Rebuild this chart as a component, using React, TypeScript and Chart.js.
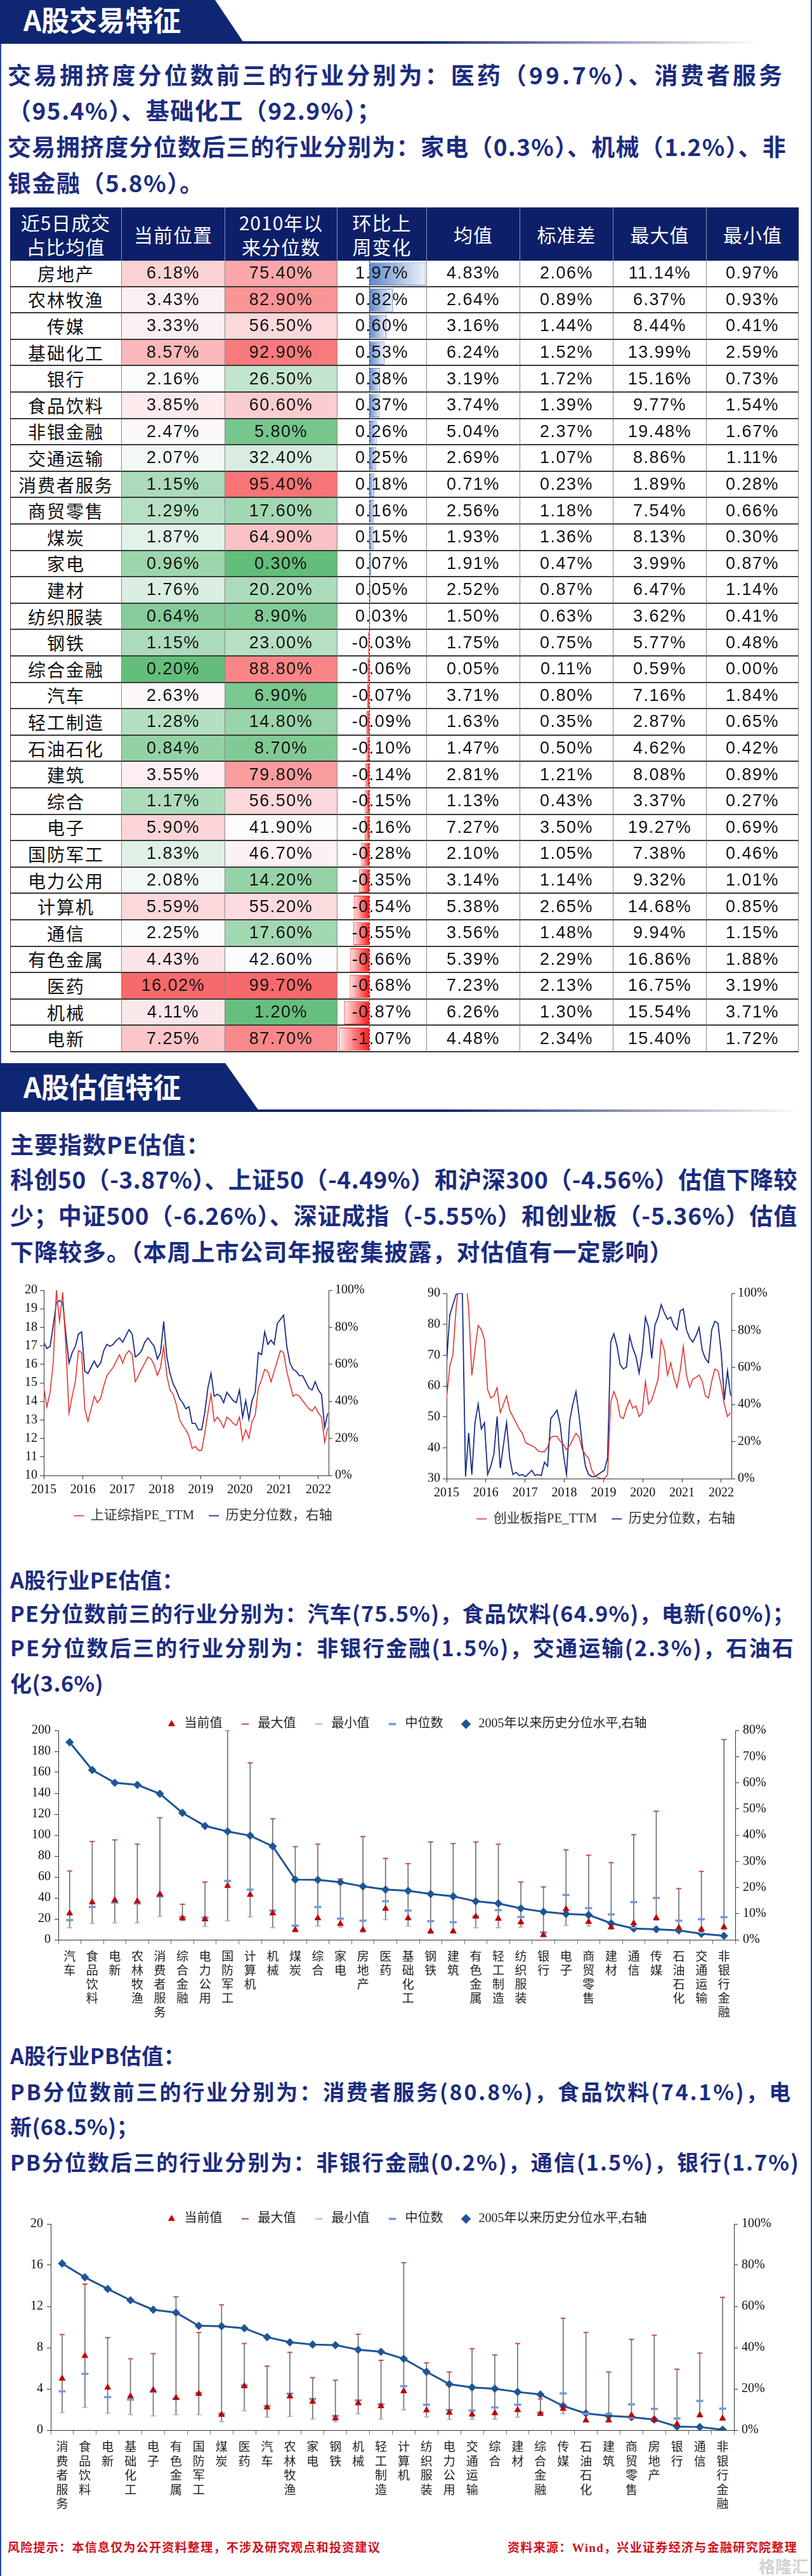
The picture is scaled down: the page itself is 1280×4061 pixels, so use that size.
import React, { useEffect, useLayoutEffect, useRef } from 'react';
import { Chart, registerables } from 'chart.js';
Chart.register(...registerables);

const NAVY = '#0f2673';
const TEXT_NAVY = '#1b2c80';
const SERIF = "'Liberation Serif', 'Noto Sans CJK SC', serif";
const CJK = "'Noto Sans CJK SC', sans-serif";
const NARROW = "'Liberation Sans Narrow', 'Liberation Sans', 'Noto Sans CJK SC', sans-serif";

// ---------------- table data ----------------
const industries = ['房地产', '农林牧渔', '传媒', '基础化工', '银行', '食品饮料', '非银金融', '交通运输', '消费者服务', '商贸零售', '煤炭', '家电', '建材', '纺织服装', '钢铁', '综合金融', '汽车', '轻工制造', '石油石化', '建筑', '综合', '电子', '国防军工', '电力公用', '计算机', '通信', '有色金属', '医药', '机械', '电新'];
const currentShare = [6.18, 3.43, 3.33, 8.57, 2.16, 3.85, 2.47, 2.07, 1.15, 1.29, 1.87, 0.96, 1.76, 0.64, 1.15, 0.2, 2.63, 1.28, 0.84, 3.55, 1.17, 5.9, 1.83, 2.08, 5.59, 2.25, 4.43, 16.02, 4.11, 7.25];
const percentileSince2010 = [75.4, 82.9, 56.5, 92.9, 26.5, 60.6, 5.8, 32.4, 95.4, 17.6, 64.9, 0.3, 20.2, 8.9, 23.0, 88.8, 6.9, 14.8, 8.7, 79.8, 56.5, 41.9, 46.7, 14.2, 55.2, 17.6, 42.6, 99.7, 1.2, 87.7];
const weeklyChange = [1.97, 0.82, 0.6, 0.53, 0.38, 0.37, 0.26, 0.25, 0.18, 0.16, 0.15, 0.07, 0.05, 0.03, -0.03, -0.06, -0.07, -0.09, -0.1, -0.14, -0.15, -0.16, -0.28, -0.35, -0.54, -0.55, -0.66, -0.68, -0.87, -1.07];
const meanShare = [4.83, 2.64, 3.16, 6.24, 3.19, 3.74, 5.04, 2.69, 0.71, 2.56, 1.93, 1.91, 2.52, 1.5, 1.75, 0.05, 3.71, 1.63, 1.47, 2.81, 1.13, 7.27, 2.1, 3.14, 5.38, 3.56, 5.39, 7.23, 6.26, 4.48];
const stdShare = [2.06, 0.89, 1.44, 1.52, 1.72, 1.39, 2.37, 1.07, 0.23, 1.18, 1.36, 0.47, 0.87, 0.63, 0.75, 0.11, 0.8, 0.35, 0.5, 1.21, 0.43, 3.5, 1.05, 1.14, 2.65, 1.48, 2.29, 2.13, 1.3, 2.34];
const maxShare = [11.14, 6.37, 8.44, 13.99, 15.16, 9.77, 19.48, 8.86, 1.89, 7.54, 8.13, 3.99, 6.47, 3.62, 5.77, 0.59, 7.16, 2.87, 4.62, 8.08, 3.37, 19.27, 7.38, 9.32, 14.68, 9.94, 16.86, 16.75, 15.54, 15.4];
const minShare = [0.97, 0.93, 0.41, 2.59, 0.73, 1.54, 1.67, 1.11, 0.28, 0.66, 0.3, 0.87, 1.14, 0.41, 0.48, 0.0, 1.84, 0.65, 0.42, 0.89, 0.27, 0.69, 0.46, 1.01, 0.85, 1.15, 1.88, 3.19, 3.71, 1.72];
const tableHeaders = [['近5日成交', '占比均值'], ['当前位置'], ['2010年以', '来分位数'], ['环比上', '周变化'], ['均值'], ['标准差'], ['最大值'], ['最小值']];

// ---------------- index PE time series ----------------
const tsYearTicks = [2015, 2016, 2017, 2018, 2019, 2020, 2021, 2022];
// observation grid (roughly monthly) from start of 2015 to end of March 2022
const sampleYears: number[] = Array.from({ length: 91 }, (_, i) => 2015 + (i * 7.24) / 90);
const shCompositePE = [14.72, 13.71, 14.49, 16.07, 20.0, 18.31, 19.89, 16.97, 13.37, 14.27, 15.06, 16.74, 16.63, 13.6, 12.92, 13.6, 14.27, 13.93, 14.16, 14.83, 15.39, 15.62, 15.84, 16.18, 16.52, 16.07, 16.52, 16.74, 16.52, 15.06, 15.39, 15.73, 16.07, 16.4, 16.29, 15.96, 15.39, 15.84, 16.97, 15.39, 14.61, 14.38, 13.82, 13.03, 12.7, 12.47, 12.13, 11.46, 11.57, 11.35, 11.35, 12.25, 13.37, 14.38, 12.92, 13.15, 12.92, 12.58, 13.15, 13.03, 12.81, 12.7, 13.15, 11.91, 12.47, 12.02, 12.92, 13.26, 14.72, 15.17, 15.73, 15.62, 15.06, 15.62, 16.18, 16.74, 16.63, 15.62, 14.94, 14.27, 14.38, 14.27, 14.04, 13.82, 13.6, 13.48, 13.71, 13.37, 13.15, 11.8, 12.58];
const shCompositePct = [71.9, 68.5, 69.7, 80.9, 93.3, 94.4, 93.3, 76.4, 60.7, 66.3, 69.7, 76.4, 77.5, 56.2, 55.1, 58.4, 61.8, 58.4, 60.7, 67.4, 70.8, 69.7, 70.8, 73.0, 74.2, 71.9, 75.3, 78.7, 76.4, 64.0, 65.2, 67.4, 71.9, 74.2, 71.9, 69.7, 62.9, 66.3, 83.1, 64.0, 55.1, 49.4, 46.1, 41.6, 39.3, 36.0, 37.1, 28.1, 28.1, 24.7, 24.7, 33.7, 47.2, 55.1, 42.7, 43.8, 42.7, 39.3, 44.9, 42.7, 40.4, 39.3, 46.1, 31.5, 40.4, 30.3, 40.4, 44.9, 66.3, 65.2, 77.5, 70.8, 73.0, 70.8, 82.0, 84.3, 86.5, 69.7, 60.7, 57.3, 56.2, 53.9, 53.9, 50.6, 47.2, 46.1, 50.6, 46.1, 43.8, 25.8, 33.7];
const chinextPE = [56.1, 66.2, 70.2, 85.0, 95, 100, 96, 85.0, 63.5, 71.6, 79.6, 78.3, 74.9, 58.8, 56.1, 56.8, 59.5, 51.4, 54.1, 56.8, 52.1, 50.1, 48.1, 46.1, 44.7, 41.7, 41.1, 40.7, 40.1, 39.0, 38.7, 38.7, 40.1, 43.4, 43.7, 43.7, 42.1, 41.1, 39.4, 40.7, 42.7, 44.7, 43.4, 39.4, 37.7, 36.7, 32.7, 31.0, 30.3, 30.0, 30.0, 31.3, 54.8, 58.2, 55.5, 50.1, 49.4, 52.8, 55.5, 52.8, 53.5, 50.1, 51.4, 61.5, 54.1, 55.5, 58.8, 62.2, 74.9, 71.6, 63.5, 67.5, 62.8, 59.5, 64.9, 72.9, 63.5, 59.5, 62.2, 62.8, 63.5, 61.5, 56.8, 56.1, 61.5, 65.5, 64.9, 60.2, 54.1, 50.1, 51.4];
const chinextPct = [62.6, 88.3, 93.9, 99.4, 100, 100, 1.1, 24.6, 2.2, 30.2, 40.2, 26.8, 30.2, 2.2, 6.7, 13.4, 33.5, 5.6, 17.9, 30.2, 11.2, 2.2, 3.4, 1.7, 2.2, 1.1, 2.8, 4.5, 1.7, 2.2, 1.7, 8.9, 6.7, 32.4, 34.6, 36.9, 29.1, 13.4, 2.2, 31.3, 40.2, 46.9, 33.5, 17.9, 6.7, 2.2, 1.1, 1.1, 2.2, 3.4, 4.5, 11.2, 73.7, 78.2, 71.5, 61.5, 59.2, 60.3, 77.1, 70.4, 65.9, 57.0, 68.2, 87.2, 81.6, 64.8, 82.7, 87.2, 93.9, 89.4, 86.0, 87.2, 82.7, 80.4, 90.5, 91.6, 80.4, 76.0, 73.7, 77.1, 81.6, 69.3, 64.8, 62.6, 80.4, 84.9, 83.8, 68.2, 42.5, 58.1, 44.7];

// ---------------- industry PE ----------------
const peIndustries = ['汽车', '食品饮料', '电新', '农林牧渔', '消费者服务', '综合金融', '电力公用', '国防军工', '计算机', '机械', '煤炭', '综合', '家电', '房地产', '医药', '基础化工', '钢铁', '建筑', '有色金属', '轻工制造', '纺织服装', '银行', '电子', '商贸零售', '建材', '通信', '传媒', '石油石化', '交通运输', '非银行金融'];
const peCurrent = [25.3, 35.8, 37.8, 36.8, 43.4, 20.6, 19.6, 51.5, 43, 25.3, 9.5, 20.6, 15.2, 9.5, 29.7, 20.6, 8.1, 8.1, 22.2, 20.2, 16.8, 4.6, 29.3, 17.2, 12.1, 15.8, 20.8, 11.5, 10.1, 12.1];
const peMax = [65.7, 93.9, 95.4, 91.3, 116.6, 33.9, 55.2, 200, 169, 115.6, 88.9, 91.3, 58.2, 98.6, 77.8, 72.7, 93.5, 91.9, 93.5, 91.3, 55.2, 50.5, 85.9, 80.8, 73.7, 100.4, 122.8, 48.9, 65.3, 191.3];
const peMin = [11.5, 15.6, 16.2, 16.2, 22.2, 18.2, 12.7, 18.2, 21.8, 11.5, 7.5, 13.1, 12.1, 7.1, 19.2, 13.1, 6.1, 7.1, 11.5, 11.5, 12.1, 3.4, 13.7, 13.1, 10.1, 11.5, 18.6, 10.1, 6.7, 9.5];
const peMedian = [18.8, 31.3, 35.4, 34.7, 41.4, 21.6, 21.2, 56.2, 47.9, 27.9, 13.5, 31.3, 20.2, 18.2, 36.8, 27.9, 17.8, 16.8, 22.2, 28.3, 21.8, 7.1, 42.8, 30.3, 24.2, 36, 40, 18.2, 19.6, 21.6];
const pePercentile = [75.5, 64.9, 60.0, 59.2, 55.8, 48.5, 43.5, 41.4, 39.8, 35.7, 23.0, 22.9, 22.0, 20.4, 19.2, 18.7, 17.5, 16.6, 14.7, 13.9, 12.0, 10.7, 9.9, 9.5, 6.3, 4.3, 4.0, 3.6, 2.3, 1.5];

// ---------------- industry PB ----------------
const pbIndustries = ['消费者服务', '食品饮料', '电新', '基础化工', '电子', '有色金属', '国防军工', '煤炭', '医药', '汽车', '农林牧渔', '家电', '钢铁', '机械', '轻工制造', '计算机', '纺织服装', '电力公用', '交通运输', '综合', '建材', '综合金融', '传媒', '石油石化', '建筑', '商贸零售', '房地产', '银行', '通信', '非银行金融'];
const pbCurrent = [5.0, 7.2, 4.13, 3.28, 3.9, 3.13, 3.53, 1.5, 4.26, 2.2, 3.28, 2.76, 1.15, 2.62, 2.33, 3.78, 1.92, 1.7, 1.52, 1.65, 1.95, 1.58, 2.08, 0.95, 0.95, 1.45, 1.0, 0.58, 1.45, 1.13];
const pbMax = [9.27, 14.16, 8.97, 6.92, 7.42, 12.93, 9.47, 12.15, 8.4, 6.2, 7.54, 5.09, 4.84, 9.3, 6.77, 16.24, 6.52, 5.64, 7.89, 7.29, 8.4, 3.03, 10.85, 9.47, 5.64, 8.8, 9.2, 5.91, 7.47, 12.88];
const pbMin = [1.7, 2.2, 1.63, 1.5, 1.38, 1.5, 1.5, 0.83, 1.88, 1.25, 1.33, 1.08, 0.83, 1.58, 1.08, 1.95, 1.28, 1.03, 1.05, 1.05, 1.25, 1.5, 1.58, 0.85, 0.85, 1.2, 0.95, 0.55, 1.28, 1.0];
const pbMedian = [3.76, 5.46, 3.2, 2.96, 3.7, 3.03, 3.6, 1.58, 4.34, 2.33, 3.53, 3.03, 1.38, 2.88, 2.5, 4.26, 2.46, 1.95, 1.9, 2.2, 2.46, 1.7, 3.56, 1.58, 1.58, 2.5, 2.06, 1.13, 2.83, 2.08];
const pbPercentile = [80.8, 74.1, 68.5, 63.0, 58.4, 57.0, 50.6, 50.4, 49.4, 45.1, 42.6, 41.5, 41.2, 39.0, 38.0, 34.6, 28.3, 22.3, 20.7, 20.1, 18.5, 17.3, 11.7, 8.1, 6.9, 6.3, 5.1, 1.7, 1.5, 0.2];

// ---------------- helpers ----------------
function heatColor(v: number, arr: number[]) {
  const s = [...arr].sort((a, b) => a - b);
  const n = s.length;
  const min = s[0], max = s[n - 1];
  const mid = n % 2 ? s[(n - 1) / 2] : (s[n / 2 - 1] + s[n / 2]) / 2;
  const G = [99, 190, 123], W = [252, 252, 255], R = [248, 105, 107];
  let c: number[];
  if (v <= mid) {
    const t = (v - min) / (mid - min || 1);
    c = G.map((g, i) => g + (W[i] - g) * t);
  } else {
    const t = (v - mid) / (max - mid || 1);
    c = W.map((w, i) => w + (R[i] - w) * t);
  }
  return `rgb(${c.map((x) => Math.round(x)).join(',')})`;
}

function FitText({ x, y, size, text, width, ls, color, weight, family }: any) {
  const ref = useRef<HTMLDivElement>(null);
  useLayoutEffect(() => {
    if (!width || !ref.current) return;
    const el = ref.current;
    el.style.letterSpacing = '0px';
    const w = el.getBoundingClientRect().width;
    const n = Array.from(text as string).length;
    el.style.letterSpacing = (width - w) / n + 'px';
  }, []);
  const lh = Math.round(size * 1.3);
  return (
    <div
      ref={ref}
      style={{
        position: 'absolute', left: x, top: y - lh / 2, fontSize: size, lineHeight: lh + 'px',
        whiteSpace: 'nowrap', fontFamily: family ?? CJK, fontWeight: weight ?? 700,
        color: color ?? TEXT_NAVY, letterSpacing: ls ?? 0,
      }}
    >
      {text}
    </div>
  );
}

function ChartBox({ left, top, width, height, make }: any) {
  const ref = useRef<HTMLCanvasElement>(null);
  useEffect(() => {
    const chart = new Chart(ref.current as HTMLCanvasElement, make());
    return () => chart.destroy();
  }, []);
  return (
    <div style={{ position: 'absolute', left, top, width, height }}>
      <canvas ref={ref} />
    </div>
  );
}

function Banner({ top, height, topW, botW, text, textY, lineW }: any) {
  return (
    <>
      <div style={{ position: 'absolute', left: 0, top: top + height - 2, width: lineW, height: 4, background: `linear-gradient(to right, ${NAVY} 0%, ${NAVY} 55%, rgba(15,38,115,0) 100%)` }} />
      <div style={{ position: 'absolute', left: 0, top, width: botW, height, background: NAVY, clipPath: `polygon(0 0, ${topW}px 0, ${botW}px ${height}px, 0 ${height}px)` }} />
      <div style={{ position: 'absolute', left: 37, top: textY - 30, height: 60, lineHeight: '60px', fontSize: 44, fontWeight: 700, color: '#fff', fontFamily: CJK, whiteSpace: 'nowrap' }}>{text}</div>
    </>
  );
}

// ---------------- table ----------------
const colX = [16, 192, 355, 532, 673, 820, 967, 1114, 1259];
const TABLE_TOP = 327;
const HEAD_H = 84;
const ROW_H = 41.6;

function dataBarConfig() {
  const zeroLine = {
    id: 'zeroLine',
    afterDatasetsDraw(chart: any) {
      const { ctx, chartArea } = chart;
      const x = Math.round(chart.scales.x.getPixelForValue(0)) + 0.5;
      ctx.save();
      ctx.setLineDash([3, 3]);
      ctx.strokeStyle = '#222';
      ctx.lineWidth = 1;
      ctx.beginPath();
      ctx.moveTo(x, chartArea.top);
      ctx.lineTo(x, chartArea.bottom);
      ctx.stroke();
      ctx.restore();
    },
  };
  return {
    type: 'bar',
    data: {
      labels: industries,
      datasets: [
        {
          data: weeklyChange,
          backgroundColor: (c: any) => {
            const chart = c.chart;
            if (!chart.chartArea) return 'rgba(0,0,0,0)';
            const v = c.raw as number;
            const xs = chart.scales.x;
            const x0 = xs.getPixelForValue(0);
            const x1 = xs.getPixelForValue(v);
            const g = chart.ctx.createLinearGradient(x0, 0, x1 === x0 ? x0 + 1 : x1, 0);
            if (v >= 0) { g.addColorStop(0, '#5f87c8'); g.addColorStop(1, '#eef2fa'); }
            else { g.addColorStop(0, '#ff1a1a'); g.addColorStop(1, '#ffe6e6'); }
            return g;
          },
          borderColor: (c: any) => ((c.raw as number) >= 0 ? '#5f87c8' : '#ff1a1a'),
          borderWidth: 1,
          borderSkipped: false,
          barPercentage: 0.88,
          categoryPercentage: 1,
        },
      ],
    },
    options: {
      indexAxis: 'y',
      animation: false,
      responsive: true,
      maintainAspectRatio: false,
      events: [],
      layout: { padding: 0 },
      plugins: { legend: { display: false }, tooltip: { enabled: false } },
      scales: {
        x: { type: 'linear', min: -1.11, max: 2.02, display: false },
        y: { type: 'category', display: false },
      },
    },
    plugins: [zeroLine],
  };
}

function TradingTable() {
  const cells: any[] = [];
  const colW = colX.slice(1).map((x, i) => x - colX[i]);
  tableHeaders.forEach((lines, c) => {
    cells.push(
      <div key={'h' + c} style={{
        position: 'absolute', left: colX[c], top: TABLE_TOP, width: colW[c], height: HEAD_H,
        background: '#0c1f68', boxSizing: 'border-box', borderRight: c < 7 ? '1px solid #8c95b8' : 'none',
        display: 'flex', flexDirection: 'column', justifyContent: 'center', alignItems: 'center',
        color: '#fff', fontSize: 30, lineHeight: '38px', fontFamily: CJK, letterSpacing: 1,
      }}>
        {lines.map((l, k) => <div key={k}>{l}</div>)}
      </div>
    );
  });
  industries.forEach((name, r) => {
    const top = TABLE_TOP + HEAD_H + r * ROW_H;
    const vals = [
      name,
      currentShare[r].toFixed(2) + '%',
      percentileSince2010[r].toFixed(2) + '%',
      weeklyChange[r].toFixed(2) + '%',
      meanShare[r].toFixed(2) + '%',
      stdShare[r].toFixed(2) + '%',
      maxShare[r].toFixed(2) + '%',
      minShare[r].toFixed(2) + '%',
    ];
    vals.forEach((v, c) => {
      let bg = '#fff';
      if (c === 1) bg = heatColor(currentShare[r], currentShare);
      if (c === 2) bg = heatColor(percentileSince2010[r], percentileSince2010);
      if (c === 3) bg = 'transparent';
      cells.push(
        <div key={r + '-' + c} style={{
          position: 'absolute', left: colX[c], top, width: colW[c], height: ROW_H,
          background: bg, boxSizing: 'border-box', borderRight: '1px solid #8a8a8a', borderBottom: '2px solid #3a3a3a',
          borderLeft: c === 0 ? '1px solid #3a3a3a' : 'none',
          display: 'flex', alignItems: 'center', justifyContent: 'center',
          fontFamily: c === 0 ? CJK : NARROW, fontSize: c === 0 ? 28 : 27, letterSpacing: c === 0 ? 2 : 1.5,
          color: '#111', whiteSpace: 'nowrap', zIndex: c === 3 ? 3 : 1,
        }}>{v}</div>
      );
    });
  });
  return (
    <>
      {cells}
      <ChartBox left={colX[3]} top={TABLE_TOP + HEAD_H} width={colX[4] - colX[3]} height={ROW_H * 30} make={dataBarConfig} />
    </>
  );
}

// ---------------- charts ----------------
const legendShift = (dy: number) => ({
  id: 'legendShift',
  afterLayout(chart: any) {
    const l = chart.legend;
    if (l) { l.top += dy; l.bottom += dy; }
  },
});

function timeSeriesConfig(peName: string, pe: number[], pct: number[], yMin: number, yMax: number, yStep: number) {
  const tickFont = { family: SERIF, size: 20 };
  return {
    type: 'line',
    data: {
      datasets: [
        { label: peName, data: pe.map((v, i) => ({ x: sampleYears[i], y: v })), borderColor: '#e5342e', backgroundColor: '#e5342e', borderWidth: 1.6, pointRadius: 0, yAxisID: 'y' },
        { label: '历史分位数，右轴', data: pct.map((v, i) => ({ x: sampleYears[i], y: v })), borderColor: '#1a2d8a', backgroundColor: '#1a2d8a', borderWidth: 1.8, pointRadius: 0, yAxisID: 'y1' },
      ],
    },
    options: {
      animation: false,
      responsive: true,
      maintainAspectRatio: false,
      events: [],
      plugins: {
        legend: { position: 'bottom', labels: { usePointStyle: true, pointStyle: 'line', pointStyleWidth: 16, font: { family: SERIF, size: 21 }, color: '#333', padding: 23 } },
        tooltip: { enabled: false },
      },
      scales: {
        x: {
          type: 'linear', min: 2015, max: 2022.26,
          afterBuildTicks: (s: any) => { s.ticks = tsYearTicks.map((v) => ({ value: v })); },
          ticks: { callback: (v: any) => String(v), font: tickFont, color: '#111', padding: 5, maxRotation: 0, autoSkip: false },
          grid: { drawOnChartArea: false, tickLength: 6, color: '#333' },
          border: { color: '#333' },
          afterFit: (s: any) => { s.height = 30; },
        },
        y: {
          position: 'left', min: yMin, max: yMax,
          ticks: { stepSize: yStep, font: tickFont, color: '#111', padding: 4 },
          grid: { drawOnChartArea: false, tickLength: 6, color: '#333' },
          border: { color: '#333' },
          afterFit: (s: any) => { s.width = 49; },
        },
        y1: {
          position: 'right', min: 0, max: 100,
          ticks: { stepSize: 20, callback: (v: any) => v + '%', font: tickFont, color: '#111', padding: 4 },
          grid: { drawOnChartArea: false, tickLength: 6, color: '#333' },
          border: { color: '#333' },
          afterFit: (s: any) => { s.width = 102; },
        },
      },
    },
  };
}

function rangeConfig(o: any) {
  const { names, cur, mx, mn, med, pct, yMax, yStep, y1Max, y1Step, yW, y1W, dy, lineH } = o;
  const tickFont = { family: SERIF, size: 20 };
  return {
    type: 'bar',
    data: {
      labels: names.map((s: string) => Array.from(s)),
      datasets: [
        { type: 'line', label: '当前值', data: cur, showLine: false, pointStyle: 'triangle', pointRadius: 5.5, borderWidth: 1, pointBackgroundColor: '#c00000', pointBorderColor: '#c00000', backgroundColor: '#c00000', borderColor: '#c00000', yAxisID: 'y' },
        { type: 'line', label: '最大值', data: mx, showLine: false, pointStyle: 'line', pointRadius: 4, borderWidth: 2, pointBorderWidth: 2, pointBorderColor: '#c0504d', borderColor: '#c0504d', backgroundColor: '#c0504d', yAxisID: 'y' },
        { type: 'line', label: '最小值', data: mn, showLine: false, pointStyle: 'line', pointRadius: 4, borderWidth: 2, pointBorderWidth: 2, pointBorderColor: '#b8b8b8', borderColor: '#b8b8b8', backgroundColor: '#b8b8b8', yAxisID: 'y' },
        { type: 'line', label: '中位数', data: med, showLine: false, pointStyle: 'line', pointRadius: 5.5, borderWidth: 3, pointBorderWidth: 3.5, pointBorderColor: '#6f9bd4', borderColor: '#6f9bd4', backgroundColor: '#6f9bd4', yAxisID: 'y' },
        { type: 'line', label: '2005年以来历史分位水平,右轴', data: pct, borderColor: '#1f5597', backgroundColor: '#1f5597', borderWidth: 3, pointStyle: 'rectRot', pointRadius: 4.5, pointBackgroundColor: '#1f5597', pointBorderColor: '#1f5597', yAxisID: 'y1' },
        { type: 'bar', label: 'range', data: mn.map((v: number, i: number) => [v, mx[i]]), backgroundColor: '#707070', barThickness: 1, yAxisID: 'y' },
      ],
    },
    options: {
      animation: false,
      responsive: true,
      maintainAspectRatio: false,
      events: [],
      plugins: {
        legend: {
          position: 'top',
          labels: { usePointStyle: true, boxHeight: 8, font: { family: SERIF, size: 20 }, color: '#222', padding: 26, filter: (it: any) => it.text !== 'range' },
        },
        tooltip: { enabled: false },
      },
      scales: {
        x: {
          type: 'category', offset: true,
          ticks: { font: { family: CJK, size: 19, lineHeight: lineH / 19 }, color: '#222', padding: 8, maxRotation: 0, minRotation: 0, autoSkip: false },
          grid: { offset: true, drawOnChartArea: false, tickLength: 7, color: '#777' },
          border: { color: '#333' },
          afterFit: (s: any) => { s.height = 140; },
        },
        y: {
          position: 'left', min: 0, max: yMax,
          ticks: { stepSize: yStep, font: tickFont, color: '#111', padding: 6 },
          grid: { drawOnChartArea: false, tickLength: 6, color: '#333' },
          border: { color: '#333' },
          afterFit: (s: any) => { s.width = yW; },
        },
        y1: {
          position: 'right', min: 0, max: y1Max,
          ticks: { stepSize: y1Step, callback: (v: any) => v + '%', font: tickFont, color: '#111', padding: 6 },
          grid: { drawOnChartArea: false, tickLength: 6, color: '#333' },
          border: { color: '#333' },
          afterFit: (s: any) => { s.width = y1W; },
        },
      },
    },
    plugins: [legendShift(dy)],
  };
}

// ---------------- page ----------------
export default function App() {
  const L = 12;
  return (
    <div style={{ position: 'absolute', left: 0, top: 0, width: 1280, height: 4061, background: '#fff', overflow: 'hidden', fontFamily: CJK }}>
      <div style={{ position: 'absolute', left: 0, top: 0, width: 2, height: 4061, background: '#2b4a9b' }} />
      <div style={{ position: 'absolute', left: 1278, top: 0, width: 2, height: 4061, background: '#2b4a9b' }} />

      <Banner top={0} height={67} topW={339} botW={384} text="A股交易特征" textY={30} lineW={1200} />
      <FitText x={L} y={117} size={37} width={1225} text="交易拥挤度分位数前三的行业分别为：医药（99.7%）、消费者服务" />
      <FitText x={L} y={173} size={37} ls={1.5} text="（95.4%）、基础化工（92.9%）；" />
      <FitText x={L} y={230} size={37} width={1228} text="交易拥挤度分位数后三的行业分别为：家电（0.3%）、机械（1.2%）、非" />
      <FitText x={L} y={287} size={37} ls={1.5} text="银金融（5.8%）。" />

      <TradingTable />

      <Banner top={1676} height={75} topW={355} botW={408} text="A股估值特征" textY={1712} lineW={1262} />
      <FitText x={L + 4} y={1803} size={37} ls={1} text="主要指数PE估值：" />
      <FitText x={L + 4} y={1858} size={37} width={1241} text="科创50（-3.87%）、上证50（-4.49%）和沪深300（-4.56%）估值下降较" />
      <FitText x={L + 4} y={1915} size={37} width={1241} text="少；中证500（-6.26%）、深证成指（-5.55%）和创业板（-5.36%）估值" />
      <FitText x={L + 4} y={1972} size={37} ls={1} text="下降较多。（本周上市公司年报密集披露，对估值有一定影响）" />

      <ChartBox left={20} top={2018} width={600} height={392} make={() => timeSeriesConfig('上证综指PE_TTM', shCompositePE, shCompositePct, 10, 20, 1)} />
      <ChartBox left={655} top={2023} width={600} height={392} make={() => timeSeriesConfig('创业板指PE_TTM', chinextPE, chinextPct, 30, 90, 10)} />

      <FitText x={L + 4} y={2490} size={34} ls={0.5} text="A股行业PE估值：" />
      <FitText x={L + 4} y={2543} size={34} width={1237} text="PE分位数前三的行业分别为：汽车(75.5%)，食品饮料(64.9%)，电新(60%)；" />
      <FitText x={L + 4} y={2597} size={34} width={1237} text="PE分位数后三的行业分别为：非银行金融(1.5%)，交通运输(2.3%)，石油石" />
      <FitText x={L + 4} y={2653} size={34} ls={0.5} text="化(3.6%)" />

      <ChartBox left={16} top={2672} width={1248} height={526} make={() => rangeConfig({
        names: peIndustries, cur: peCurrent, mx: peMax, mn: peMin, med: peMedian, pct: pePercentile,
        yMax: 200, yStep: 20, y1Max: 80, y1Step: 10, yW: 76, y1W: 105, dy: 10, lineH: 22,
      })} />

      <FitText x={L + 4} y={3240} size={34} ls={0.5} text="A股行业PB估值：" />
      <FitText x={L + 4} y={3297} size={34} width={1233} text="PB分位数前三的行业分别为：消费者服务(80.8%)，食品饮料(74.1%)，电" />
      <FitText x={L + 4} y={3352} size={34} ls={0.5} text="新(68.5%)；" />
      <FitText x={L + 4} y={3408} size={34} width={1245} text="PB分位数后三的行业分别为：非银行金融(0.2%)，通信(1.5%)，银行(1.7%)" />

      <ChartBox left={16} top={3450} width={1248} height={521} make={() => rangeConfig({
        names: pbIndustries, cur: pbCurrent, mx: pbMax, mn: pbMin, med: pbMedian, pct: pbPercentile,
        yMax: 20, yStep: 4, y1Max: 100, y1Step: 20, yW: 64, y1W: 107, dy: 12, lineH: 22.4,
      })} />

      <FitText x={L} y={4016} size={19} width={588} weight={700} color="#d0101b" family={SERIF} text="风险提示：本信息仅为公开资料整理，不涉及研究观点和投资建议" />
      <FitText x={800} y={4016} size={19} width={457} weight={700} color="#d0101b" family={SERIF} text="资料来源：Wind，兴业证券经济与金融研究院整理" />
      <div style={{ position: 'absolute', left: 1196, top: 4026, fontSize: 26, fontWeight: 700, color: 'rgba(190,190,190,0.7)', fontFamily: CJK }}>格隆汇</div>
    </div>
  );
}
